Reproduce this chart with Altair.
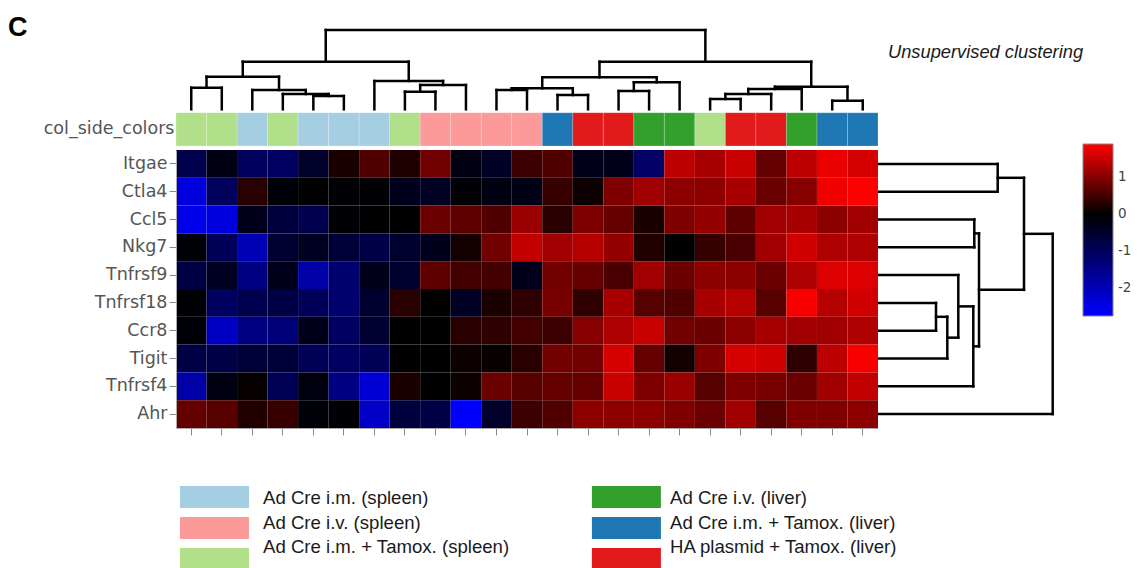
import altair as alt
import pandas as pd

# ---------------- data ----------------
genes = ["Itgae", "Ctla4", "Ccl5", "Nkg7", "Tnfrsf9", "Tnfrsf18", "Ccr8", "Tigit", "Tnfrsf4", "Ahr"]

groups = ["Ad Cre i.m. (spleen)", "Ad Cre i.v. (spleen)", "Ad Cre i.m. + Tamox. (spleen)",
          "Ad Cre i.v. (liver)", "Ad Cre i.m. + Tamox. (liver)", "HA plasmid + Tamox. (liver)"]
group_colors = ["#a6cee3", "#fb9a99", "#b2df8a", "#33a02c", "#1f78b4", "#e31a1c"]
legend_col = [0, 0, 0, 1, 1, 1]
legend_row = [0, 1, 2, 0, 1, 2]

# group of each sample column, in clustered order
col_groups = [2, 2, 0, 2, 0, 0, 0, 2, 1, 1, 1, 1, 4, 5, 5, 3, 3, 2, 5, 5, 3, 4, 4]

itgae = [-0.85, -0.2, -1.0, -1.05, -0.45, 0.2, 0.6, 0.22, 0.85, -0.2, -0.4, 0.45, 0.6, -0.3, -0.3, -1.1, 1.4, 1.25, 1.5, 0.75, 1.4, 1.75, 1.6]
ctla4 = [-2.4, -1.0, 0.3, -0.1, 0.0, -0.05, -0.05, -0.3, -0.4, -0.05, -0.2, -0.25, 0.4, 0.1, 0.95, 1.2, 1.05, 1.05, 1.25, 0.8, 1.0, 1.8, 1.9]
ccl5 = [-2.5, -2.4, -0.3, -0.65, -0.85, -0.05, 0.0, 0.0, 0.8, 0.7, 0.6, 1.15, 0.3, 0.95, 0.75, 0.2, 0.95, 1.1, 0.7, 1.2, 1.25, 1.05, 1.2]
nkg7 = [-0.1, -0.95, -1.95, -0.55, -0.35, -0.6, -0.75, -0.5, -0.3, 0.15, 0.85, 1.45, 1.2, 1.35, 1.1, 0.25, 0.0, 0.4, 0.55, 1.2, 1.55, 1.3, 1.3]
tnfrsf9 = [-0.75, -0.35, -1.4, -0.3, -1.8, -1.2, -0.3, -0.5, 0.7, 0.5, 0.5, -0.3, 0.85, 0.75, 0.55, 1.2, 0.8, 1.05, 1.05, 0.8, 1.3, 1.65, 1.65]
tnfrsf18 = [-0.05, -1.05, -0.85, -0.75, -0.95, -1.2, -0.5, 0.3, 0.0, -0.4, 0.2, 0.35, 0.9, 0.35, 1.25, 0.65, 0.6, 1.25, 1.35, 0.65, 1.85, 1.35, 1.55]
ccr8 = [-0.1, -2.1, -1.4, -1.3, -0.3, -1.05, -0.55, 0.0, 0.0, 0.3, 0.35, 0.5, 0.45, 1.0, 1.3, 1.5, 0.85, 0.8, 1.05, 1.25, 1.2, 1.2, 1.3]
tigit = [-0.75, -0.75, -0.6, -0.6, -0.95, -1.05, -0.95, 0.0, 0.0, 0.1, 0.05, 0.3, 0.85, 0.85, 1.6, 0.75, 0.15, 0.95, 1.6, 1.55, 0.35, 1.4, 1.85]
tnfrsf4 = [-1.8, -0.2, 0.05, -0.95, -0.15, -1.4, -2.3, 0.2, 0.0, 0.1, 0.8, 0.65, 0.75, 0.75, 1.5, 0.95, 1.15, 0.65, 0.95, 0.9, 0.8, 1.2, 1.45]
ahr = [0.75, 0.65, 0.25, 0.4, -0.1, -0.05, -2.15, -0.65, -0.75, -2.75, -0.45, 0.45, 0.6, 1.05, 1.05, 1.05, 0.95, 0.8, 1.2, 0.65, 0.95, 0.95, 1.05]
matrix = [itgae, ctla4, ccl5, nkg7, tnfrsf9, tnfrsf18, ccr8, tigit, tnfrsf4, ahr]

# column dendrogram merges: (left, right, height); ints = leaf columns, "nK" = earlier merge K
col_merges = [
    (0, 1, 2.16), (4, 5, 1.33), (3, "n1", 1.53), (2, "n2", 1.93), ("n0", "n3", 3.26),
    (7, 8, 1.76), ("n5", 9, 2.43), (6, "n6", 2.83), ("n4", "n7", 4.76),
    (10, 11, 1.93), (12, 13, 1.43), ("n9", "n10", 2.10), (14, 15, 1.83), ("n12", 16, 2.70),
    ("n11", "n13", 3.20), (17, 18, 1.03), ("n15", 19, 1.53), ("n16", 20, 2.03), (21, 22, 0.86),
    ("n17", "n18", 2.26), ("n14", "n19", 4.76), ("n8", "n20", 7.93),
]
# row dendrogram merges
row_merges = [
    (0, 1, 12.04), (2, 3, 9.70), (5, 6, 5.87), ("n2", 7, 7.00), (4, "n3", 8.10),
    ("n4", 8, 9.60), ("n1", "n5", 10.17), ("n0", "n6", 14.67), ("n7", 9, 17.54),
]


def dendro_segments(merges, n_leaves):
    pos = {i: i + 0.5 for i in range(n_leaves)}
    hgt = {i: 0.0 for i in range(n_leaves)}
    segs = []
    for k, (a, b, h) in enumerate(merges):
        pa, pb = pos[a], pos[b]
        segs.append(dict(p=pa, p2=pa, d=hgt[a], d2=h))
        segs.append(dict(p=pb, p2=pb, d=hgt[b], d2=h))
        segs.append(dict(p=pa, p2=pb, d=h, d2=h))
        pos["n%d" % k] = (pa + pb) / 2
        hgt["n%d" % k] = h
    return pd.DataFrame(segs)


n_cols = len(col_groups)
heat_df = pd.DataFrame([
    {"gene": g, "col": c, "value": matrix[gi][c]}
    for gi, g in enumerate(genes) for c in range(n_cols)
])
vmin = min(min(r) for r in matrix)
vmax = max(max(r) for r in matrix)

side_df = pd.DataFrame({"col": list(range(n_cols)), "track": ["col_side_colors"] * n_cols,
                        "fill": [group_colors[g] for g in col_groups]})
col_seg = dendro_segments(col_merges, n_cols)
row_seg = dendro_segments(row_merges, len(genes))
leg_df = pd.DataFrame({"label": groups, "fill": group_colors, "lcol": legend_col, "lrow": legend_row})

# ---------------- layout ----------------
W, H = 1125, 560
HX0, HX1 = 168, 870     # heatmap horizontal range
HY0, HY1 = 142, 420     # heatmap vertical range
LABEL_FONT = "DejaVu Sans"
LABEL_COLOR = "#555555"

heat = alt.Chart(heat_df).mark_rect().encode(
    x=alt.X("col:O", scale=alt.Scale(range=[HX0, HX1], paddingInner=0, paddingOuter=0),
            axis=alt.Axis(orient="bottom", offset=HY1 - H, labels=False, ticks=True, tickSize=7,
                          tickColor="#888888", domainColor="#aaaaaa", title=None, grid=False)),
    y=alt.Y("gene:N", sort=genes, scale=alt.Scale(range=[HY0, HY1], paddingInner=0, paddingOuter=0),
            axis=alt.Axis(orient="left", offset=-HX0, title=None, labelFontSize=17.5, labelFont=LABEL_FONT,
                          labelColor=LABEL_COLOR, tickSize=7, tickColor="#888888", domainColor="#aaaaaa",
                          labelPadding=2, grid=False)),
    color=alt.Color("value:Q",
                    scale=alt.Scale(domain=[vmin, 0, vmax], range=["#0000ff", "#000000", "#ff0000"],
                                    interpolate="rgb"),
                    legend=alt.Legend(orient="none", legendX=1075, legendY=136, direction="vertical",
                                      gradientLength=172, gradientThickness=30, values=[1, 0, -1, -2],
                                      labelExpr="replace(datum.label, '\u2212', '-')",
                                      title=None, labelFontSize=13.5, labelColor="#444444",
                                      labelFont=LABEL_FONT, gradientStrokeColor="#888888",
                                      gradientStrokeWidth=1, labelOffset=5, padding=0)),
)

side = alt.Chart(side_df).mark_rect(stroke="white", strokeWidth=0.5, strokeOpacity=0.4).encode(
    x=alt.X("col:O", scale=alt.Scale(range=[HX0, HX1], paddingInner=0, paddingOuter=0), axis=None),
    y=alt.Y("track:N", scale=alt.Scale(range=[104.7, 138], paddingInner=0, paddingOuter=0),
            axis=alt.Axis(orient="left", offset=-HX0, ticks=False, domain=False, title=None,
                          labelFontSize=17.5, labelFont=LABEL_FONT, labelColor=LABEL_COLOR, labelPadding=2)),
    color=alt.Color("fill:N", scale=None),
)

col_dend = alt.Chart(col_seg).mark_rule(color="black", strokeWidth=2.5, strokeCap="square").encode(
    x=alt.X("p:Q", scale=alt.Scale(domain=[0, n_cols], range=[HX0, HX1], nice=False, zero=False), axis=None),
    x2="p2:Q",
    y=alt.Y("d:Q", scale=alt.Scale(domain=[0, col_seg["d2"].max()], range=[101.3, 22], nice=False, zero=False),
            axis=None),
    y2="d2:Q",
)

row_dend = alt.Chart(row_seg).mark_rule(color="black", strokeWidth=2.5, strokeCap="square").encode(
    y=alt.Y("p:Q", scale=alt.Scale(domain=[0, len(genes)], range=[HY0, HY1], nice=False, zero=False), axis=None),
    y2="p2:Q",
    x=alt.X("d:Q", scale=alt.Scale(domain=[0, row_seg["d2"].max()], range=[869.3, 1044.7], nice=False, zero=False),
            axis=None),
    x2="d2:Q",
)

leg_sw = alt.Chart(leg_df).mark_rect(width=69, height=22).encode(
    x=alt.X("lcol:Q", scale=alt.Scale(domain=[0, 1], range=[206.5, 618.4], nice=False, zero=False), axis=None),
    y=alt.Y("lrow:Q", scale=alt.Scale(domain=[0, 2], range=[489, 551], nice=False, zero=False), axis=None),
    color=alt.Color("fill:N", scale=None),
)
leg_tx = alt.Chart(leg_df).mark_text(align="left", baseline="middle", fontSize=18.6, font="Liberation Sans",
                                     color="#1a1a1a").encode(
    x=alt.X("lcol:Q", scale=alt.Scale(domain=[0, 1], range=[255, 662], nice=False, zero=False), axis=None),
    y=alt.Y("lrow:Q", scale=alt.Scale(domain=[0, 2], range=[490, 539], nice=False, zero=False), axis=None),
    text="label:N",
)

panel_df = pd.DataFrame({"t": ["C"]})
panel = alt.Chart(panel_df).mark_text(align="left", baseline="alphabetic", fontSize=27, fontWeight="bold",
                                      font="Liberation Sans", color="black").encode(
    x=alt.value(0), y=alt.value(28), text="t:N")

sub_df = pd.DataFrame({"t": ["Unsupervised clustering"]})
sub = alt.Chart(sub_df).mark_text(align="left", baseline="alphabetic", fontSize=18.3, fontStyle="italic",
                                  font="Liberation Sans", color="#1a1a1a").encode(
    x=alt.value(880), y=alt.value(49.5), text="t:N")

chart = alt.layer(col_dend, row_dend, side, heat, leg_sw, leg_tx, panel, sub).resolve_scale(
    x="independent", y="independent", color="independent"
).properties(
    width=W, height=H, autosize="none", padding=0, background="white"
).configure_view(stroke=None)

chart.save("out.html", embed_options={"renderer": "svg", "actions": False})
